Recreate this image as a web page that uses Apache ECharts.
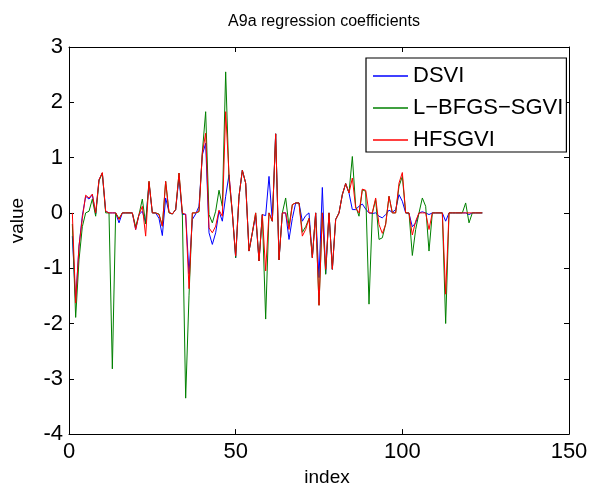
<!DOCTYPE html>
<html>
<head>
<meta charset="utf-8">
<script src="https://cdn.jsdelivr.net/npm/echarts@6/dist/echarts.min.js"></script>
<style>
  html, body { margin: 0; padding: 0; background: #fff; }
  #chart { width: 592px; height: 492px; }
</style>
</head>
<body>
<div id="chart"></div>
<script>
// coefficient values, index 1..124
var dsvi = [
  -0.42, -1.6, -0.6, -0.05, 0.3, 0.25, 0.33, -0.02, 0.6, 0.72,
  0.03, 0, 0, 0, -0.18, 0, 0, 0, 0, -0.3,
  -0.03, 0.03, -0.18, 0.54, 0, 0, -0.1, -0.41, 0.27, 0.01,
  -0.02, 0.06, 0.65, -0.03, -0.02, -1.1, -0.12, -0.02, 0.12, 1.05,
  1.26, -0.36, -0.57, -0.36, 0.03, -0.15, 0.3, 0.69, 0, -0.81,
  0.3, 0.77, 0.54, -0.69, -0.36, -0.05, -0.87, -0.03, -0.05, 0.66,
  -0.15, 1.43, -0.85, 0, 0, -0.48, -0.1, 0.18, 0.18, -0.15,
  -0.05, 0, -0.81, 0, -1.17, 0.46, -1.1, 0, -1.02, -0.12,
  0, 0.33, 0.53, 0.36, 0.06, 0.06, 0.12, 0.16, 0.07, 0,
  -0.01, 0, -0.06, -0.09, -0.03, 0.05, 0.01, 0.06, 0.33, 0.21,
  0, -0.01, -0.25, -0.18, 0, 0.02, 0, -0.03, 0, 0,
  0, 0, -0.15, 0, 0, 0, 0, 0, 0, -0.03,
  0, 0, 0, 0
];
var lbfgs = [
  -0.2, -1.89, -0.85, -0.25, 0, 0.03, 0.25, -0.06, 0.58, 0.72,
  0, 0, -2.82, 0, -0.1, 0, 0, 0, 0, -0.25,
  -0.03, 0.25, -0.2, 0.57, 0, 0, -0.02, -0.24, 0.57, 0,
  -0.02, 0.06, 0.72, 0, -3.35, -1.5, 0, 0, 0.02, 1.1,
  1.83, -0.03, -0.18, 0.03, 0.41, 0.12, 2.55, 0.6, 0, -0.81,
  0.3, 0.77, 0.54, -0.69, -0.36, 0, -0.87, -0.03, -1.92, 0,
  -0.15, 1.43, -0.85, 0, 0.27, -0.24, 0.15, 0.18, 0.18, -0.35,
  -0.25, -0.1, -0.81, 0, -1.67, 0, -1.11, 0, -1.02, -0.12,
  0, 0.33, 0.53, 0.36, 1.02, 0.12, -0.06, 0.42, 0.39, -1.65,
  0, 0.24, -0.48, -0.45, -0.2, 0.3, 0, 0, 0.48, 0.66,
  0, 0, -0.77, -0.3, 0, 0.27, 0.12, -0.69, 0, 0,
  0, 0, -2.0, 0, 0, 0, 0, 0, 0.18, -0.18,
  0, 0, 0, 0
];
var hfsgvi = [
  0, -1.63, -0.6, -0.1, 0.32, 0.27, 0.34, 0, 0.6, 0.73,
  0.03, 0, 0, 0, -0.12, 0, 0, 0, 0, -0.3,
  -0.03, 0.12, -0.42, 0.57, 0, 0, -0.03, -0.24, 0.57, 0.01,
  -0.02, 0.06, 0.72, 0, -0.03, -1.37, 0, 0, 0.03, 1.08,
  1.44, -0.27, -0.36, -0.24, 0.05, -0.06, 1.83, 0.7, 0, -0.78,
  0.3, 0.77, 0.54, -0.69, -0.36, 0, -0.87, -0.03, -1.05, 0,
  -0.15, 1.43, -0.85, 0, 0, -0.3, 0.15, 0.18, 0.18, -0.42,
  -0.3, -0.1, -0.81, 0, -1.67, 0, -1.02, 0, -1.02, -0.12,
  0, 0.33, 0.53, 0.36, 0.63, 0.09, 0, 0.43, 0.41, 0,
  0, 0.27, -0.21, -0.37, -0.21, 0.3, 0, 0, 0.54, 0.73,
  0, 0, -0.4, -0.15, 0, 0, 0, -0.3, 0, 0,
  0, 0, -1.47, 0, 0, 0, 0, 0, 0, 0,
  0, 0, 0, 0
];
var seriesNames = ['DSVI', 'L\u2212BFGS\u2212SGVI', 'HFSGVI'];
var seriesColors = ['#0000ff', '#008000', '#ff0000'];
var xTicks = [0, 50, 100, 150];
var yTicks = [-4, -3, -2, -1, 0, 1, 2, 3];

function toPoints(arr) {
  return arr.map(function (v, i) { return [i + 1, v]; });
}

var chart = echarts.init(document.getElementById('chart'));
var font = 'Liberation Sans, Arial, Helvetica, sans-serif';
var tickFont = 22;

var axisCommon = {
  axisLine: { show: true, onZero: false, lineStyle: { color: '#000', width: 1 } },
  axisTick: { show: true, inside: true, length: 5, lineStyle: { color: '#000' } },
  splitLine: { show: false }
};

var option = {
  animation: false,
  backgroundColor: '#fff',
  title: {
    text: 'A9a regression coefficients',
    left: 319, top: 9, textAlign: 'center',
    textStyle: { fontFamily: font, fontSize: 16, fontWeight: 'normal', color: '#000' }
  },
  legend: {
    orient: 'vertical',
    left: 366, top: 58,
    itemWidth: 35, itemHeight: 1.5, itemGap: 10,
    padding: [7, 3, 1, 7],
    borderColor: '#000', borderWidth: 1.2, backgroundColor: '#fff',
    textStyle: { fontFamily: font, fontSize: 22, color: '#000' },
    data: seriesNames.map(function (n) { return { name: n, icon: 'rect' }; })
  },
  grid: { left: 69, right: 23, top: 47, bottom: 55 },
  xAxis: [
    Object.assign({
      type: 'value', min: 0, max: 150, interval: 50,
      name: 'index', nameLocation: 'middle', nameGap: 30,
      nameTextStyle: { fontFamily: font, fontSize: 19, color: '#000', padding: [0, 0, 0, 16] },
      axisLabel: { fontFamily: font, fontSize: tickFont, color: '#000', margin: 7,
        customValues: xTicks }
    }, axisCommon),
    Object.assign({
      type: 'value', min: 0, max: 150, interval: 50, position: 'top',
      axisLabel: { show: false }
    }, axisCommon)
  ],
  yAxis: [
    Object.assign({
      type: 'value', min: -4, max: 3, interval: 1,
      name: 'value', nameLocation: 'middle', nameGap: 42,
      nameTextStyle: { fontFamily: font, fontSize: 19, color: '#000', padding: [0, 0, 0, 40] },
      axisLabel: { fontFamily: font, fontSize: tickFont, color: '#000', margin: 6,
        customValues: yTicks }
    }, axisCommon),
    Object.assign({
      type: 'value', min: -4, max: 3, interval: 1, position: 'right',
      axisLabel: { show: false }
    }, axisCommon)
  ],
  series: [dsvi, lbfgs, hfsgvi].map(function (arr, k) {
    return {
      name: seriesNames[k],
      type: 'line',
      data: toPoints(arr),
      showSymbol: false,
      symbol: 'none',
      color: seriesColors[k],
      lineStyle: { width: 1, color: seriesColors[k] },
      z: 2 + k
    };
  })
};

chart.setOption(option);
</script>
</body>
</html>
